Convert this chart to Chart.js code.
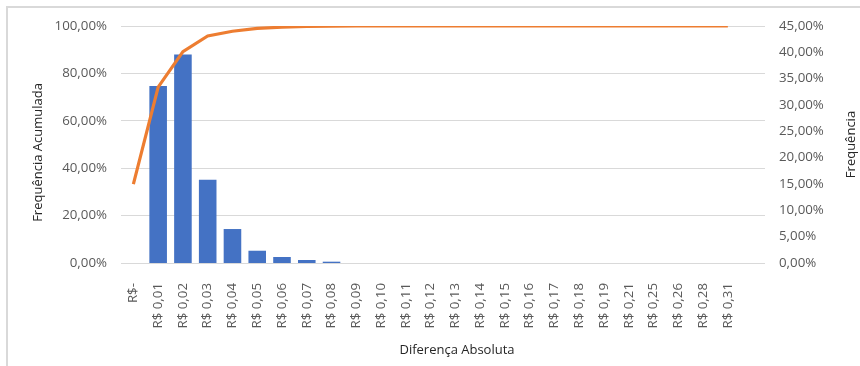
<!DOCTYPE html>
<html>
<head>
<meta charset="utf-8">
<script src="https://cdn.jsdelivr.net/npm/chart.js@4/dist/chart.umd.min.js"></script>
<style>
  html, body { margin: 0; padding: 0; background: #fff; }
  #wrap { position: relative; width: 860px; height: 366px; overflow: hidden; }
  #frame { position: absolute; left: 6px; top: 6px; width: 900px; height: 400px;
           border-left: 2px solid #d9d9d9; border-top: 2px solid #d9d9d9; box-sizing: border-box; }
  canvas { position: absolute; left: 0; top: 0; }
</style>
</head>
<body>
<div id="wrap">
  <div id="frame"></div>
  <canvas id="c" width="860" height="366"></canvas>
</div>
<script>
// Absolute difference classes (R$)
const categories = ["R$-", "R$ 0,01", "R$ 0,02", "R$ 0,03", "R$ 0,04", "R$ 0,05", "R$ 0,06",
  "R$ 0,07", "R$ 0,08", "R$ 0,09", "R$ 0,10", "R$ 0,11", "R$ 0,12", "R$ 0,13", "R$ 0,14",
  "R$ 0,15", "R$ 0,16", "R$ 0,17", "R$ 0,18", "R$ 0,19", "R$ 0,21", "R$ 0,25", "R$ 0,26",
  "R$ 0,28", "R$ 0,31", ""];

// Frequency per class (%), right axis
const frequencia = [0, 33.6, 39.6, 15.8, 6.45, 2.33, 1.14, 0.57, 0.25, 0, 0, 0, 0,
  0, 0, 0, 0, 0, 0, 0, 0, 0, 0, 0, 0, null];

// Cumulative frequency (%), left axis
const frequenciaAcumulada = [33.3, 74.2, 89.2, 95.8, 97.8, 99.0, 99.5, 99.8, 99.9, 100, 100,
  100, 100, 100, 100, 100, 100, 100, 100, 100, 100, 100, 100, 100, 100, null];

const leftTicks = { min: 0, max: 100, step: 20 };
const rightTicks = { min: 0, max: 45, step: 5 };

const pct = v => v.toFixed(2).replace('.', ',') + '%';
const tickFont = { family: "'Open Sans', sans-serif", size: 13.3 };

// Axis titles
const axisTitles = {
  id: 'axisTitles',
  afterDraw(chart) {
    const { ctx, chartArea } = chart;
    const midY = (chartArea.top + chartArea.bottom) / 2;
    const put = (text, x, y, rot) => {
      ctx.save();
      ctx.translate(x, y);
      ctx.rotate(rot);
      ctx.font = "13px 'Open Sans', sans-serif";
      ctx.fillStyle = '#262626';
      ctx.textAlign = 'center';
      ctx.textBaseline = 'middle';
      ctx.fillText(text, 0, 0);
      ctx.restore();
    };
    put('Frequência Acumulada', 38, midY + 8, -Math.PI / 2);
    put('Frequência', 851, midY, -Math.PI / 2);
    put('Diferença Absoluta', (chartArea.left + chartArea.right) / 2 + 14, 350, 0);
  }
};

new Chart(document.getElementById('c'), {
  data: {
    labels: categories,
    datasets: [
      {
        type: 'line',
        label: 'Frequência Acumulada',
        data: frequenciaAcumulada,
        yAxisID: 'y',
        borderColor: '#ED7D31',
        borderWidth: 3.2,
        pointRadius: 0,
        tension: 0,
        fill: false,
        order: 0
      },
      {
        type: 'bar',
        label: 'Frequência',
        data: frequencia,
        yAxisID: 'y1',
        backgroundColor: '#4472C4',
        categoryPercentage: 1,
        barPercentage: 0.71,
        order: 1
      }
    ]
  },
  plugins: [axisTitles],
  options: {
    responsive: false,
    animation: false,
    layout: { padding: { top: 26, left: 0, right: 0, bottom: 0 } },
    plugins: { legend: { display: false }, tooltip: { enabled: false } },
    scales: {
      x: {
        offset: true,
        grid: { display: false },
        border: { display: false },
        ticks: { color: '#595959', font: tickFont, minRotation: 90, maxRotation: 90, padding: 12, autoSkip: false },
        afterFit: s => { s.height = 103; }
      },
      y: {
        position: 'left',
        min: leftTicks.min, max: leftTicks.max,
        grid: { color: '#d9d9d9', lineWidth: 1, drawTicks: false },
        border: { display: false },
        ticks: { stepSize: leftTicks.step, color: '#595959', font: tickFont, padding: 14, callback: v => pct(v) },
        afterFit: s => { s.width = 121; }
      },
      y1: {
        position: 'right',
        min: rightTicks.min, max: rightTicks.max,
        grid: { display: false, drawTicks: false },
        border: { display: false },
        ticks: { stepSize: rightTicks.step, color: '#595959', font: tickFont, padding: 14, callback: v => pct(v) },
        afterFit: s => { s.width = 95; }
      }
    }
  }
});
</script>
</body>
</html>
